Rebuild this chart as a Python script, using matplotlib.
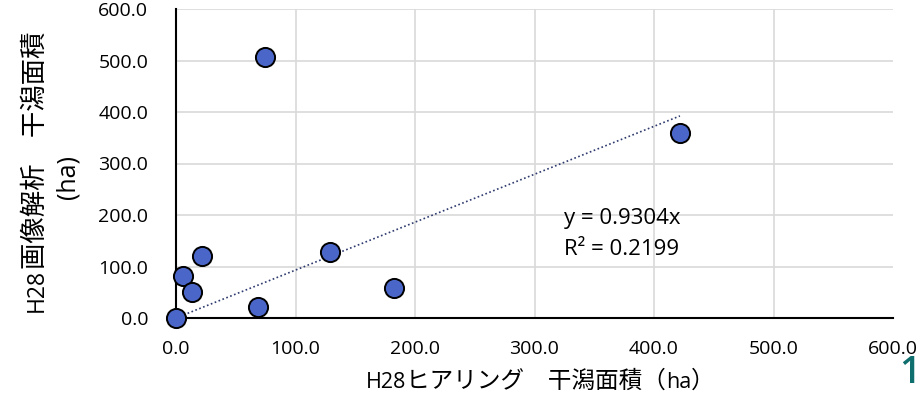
import matplotlib
matplotlib.use("Agg")
import matplotlib.pyplot as plt
import numpy as np

LATIN = ['Open Sans', 'Noto Sans CJK JP']
CJK = ['Noto Sans CJK JP', 'Open Sans']
plt.rcParams['font.family'] = LATIN

# H28 hearing vs image analysis tidal flat area (ha)
hearing_area = [0.0, 5.6, 13.7, 22.0, 69.0, 74.7, 129.0, 182.7, 421.7]
image_area = [0.0, 82.0, 50.0, 121.0, 22.0, 507.0, 129.0, 57.7, 359.0]
slope = 0.9304
eq_text = "y = 0.9304x\nR² = 0.2199"
ticks = [0, 100, 200, 300, 400, 500, 600]
tick_labels = [f"{t:.1f}" for t in ticks]

# label pieces: (text, font, size) so latin and kana/kanji get their own sizes
xlabel_parts = [("H28", LATIN, 15.5), ("ヒアリング　干潟面積（", CJK, 17),
                ("ha", LATIN, 15.5), ("）", CJK, 17)]
ylabel_parts = [("H28", LATIN, 16.5), ("画像解析　干潟面積", CJK, 19)]
ylabel_unit = "(ha)"


def mixed_text(fig, cx, cy, parts, rotation=0):
    """Lay text pieces along one baseline; (cx, cy) is the baseline centre in pixels."""
    renderer = fig.canvas.get_renderer()
    texts, lengths = [], []
    for s, fam, size in parts:
        t = fig.text(0, 0, s, family=fam, fontsize=size, ha='left', va='baseline',
                     rotation=rotation, rotation_mode='anchor', transform=None)
        bb = t.get_window_extent(renderer)
        texts.append(t)
        lengths.append(bb.width if rotation == 0 else bb.height)
    pos = -sum(lengths) / 2
    for t, length in zip(texts, lengths):
        if rotation == 0:
            t.set_position((cx + pos, cy))
        else:
            t.set_position((cx, cy + pos))
        pos += length


fig = plt.figure(figsize=(9.22, 3.96), dpi=100)
ax = fig.add_axes([176 / 922, 78 / 396, 717 / 922, 309 / 396])

ax.set_xlim(0, 600)
ax.set_ylim(0, 600)
ax.set_xticks(ticks)
ax.set_yticks(ticks)
ax.set_xticklabels(tick_labels)
ax.set_yticklabels(tick_labels)
ax.tick_params(length=0, labelsize=14)
ax.tick_params(axis='y', pad=20)
ax.tick_params(axis='x', pad=16)
ax.grid(color='#d9d9d9', linewidth=1.2)
ax.set_axisbelow(True)
ax.xaxis.get_gridlines()[-1].set_visible(False)

for side in ['top', 'right']:
    ax.spines[side].set_visible(False)
for side in ['left', 'bottom']:
    ax.spines[side].set_linewidth(1.5)
    ax.spines[side].set_color('black')

# linear trend through origin
xs = np.array([0, max(hearing_area)])
ax.plot(xs, slope * xs, linestyle=(0, (1, 1.5)), color='#2e3a6e', linewidth=1.2, zorder=2)

ax.scatter(hearing_area, image_area, s=190, color='#4a66c8', edgecolor='black',
           linewidth=1.4, zorder=3, clip_on=False)

ax.text(325, 163, eq_text, fontsize=16, va='center', ha='left', linespacing=1.65)

mixed_text(fig, 540, 8, xlabel_parts)
mixed_text(fig, 42.5, 224, ylabel_parts, rotation=90)
fig.text(75, 219, ylabel_unit, fontsize=18, rotation=90, rotation_mode='anchor',
         ha='center', va='baseline', transform=None)

fig.text(921 / 922, 4 / 396, "1", fontsize=27, color='#0f6e6e', ha='right',
         va='bottom', fontweight='semibold')

fig.savefig("out.png", dpi=100)
